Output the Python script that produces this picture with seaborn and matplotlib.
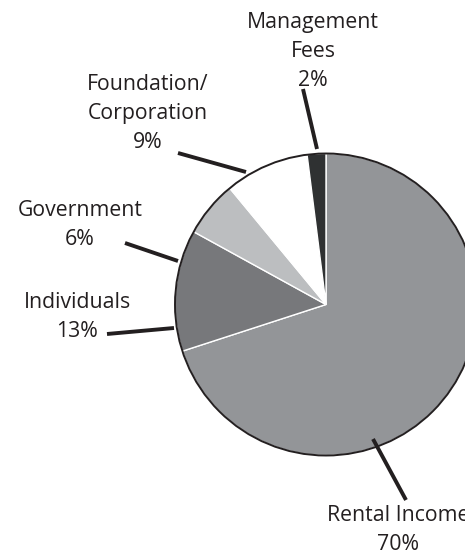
import numpy as np
import matplotlib
matplotlib.use("Agg")
import matplotlib.pyplot as plt
import seaborn as sns

# data
categories = ['Rental Income', 'Individuals', 'Government', 'Foundation/\nCorporation', 'Management\nFees']
shares = [70, 13, 6, 9, 2]
colors = ['#939598', '#77787b', '#bcbec0', '#ffffff', '#2f3132']

W, H = 465, 552
cx, cy, R = 326, 304.5, 151.0


def px(x, y):
    # pixel position -> data coords (pie radius = 1)
    return (x - cx) / R, (cy - y) / R


sns.set_theme(style="white")
plt.rcParams['font.family'] = ['Open Sans', 'DejaVu Sans']

fig = plt.figure(figsize=(W / 100, H / 100), dpi=100)
ax = fig.add_axes([0, 0, 1, 1])

wedges, _ = ax.pie(shares, colors=colors, startangle=90, counterclock=False, radius=1,
                   wedgeprops=dict(edgecolor='white', linewidth=1.0))
ax.add_patch(plt.Circle((0, 0), 1, fill=False, edgecolor='#231f20', linewidth=1.4, zorder=5))

# label block centre and leader line ends, in pixels
labels = {
    'Rental Income': ((398, 530), ((373, 439), (406, 500))),
    'Individuals': ((77, 317), ((107, 334), (174, 328))),
    'Government': ((80, 225), ((125, 243), (178, 261))),
    'Foundation/\nCorporation': ((148, 113), ((178, 153), (246, 172))),
    'Management\nFees': ((313, 51.5), ((303, 89), (317, 149))),
}
txt = '#231f20'
for name, pct in zip(categories, shares):
    (tx, ty), (p0, p1) = labels[name]
    ax.text(*px(tx, ty), f'{name}\n{pct}%', ha='center', va='center',
            fontsize=15.3, color=txt, linespacing=1.5, clip_on=False)
    xs, ys = zip(px(*p0), px(*p1))
    ax.plot(xs, ys, color='#231f20', lw=2.8, solid_capstyle='butt', zorder=6)

ax.set_xlim(-cx / R, (W - cx) / R)
ax.set_ylim((cy - H) / R, cy / R)
ax.set_aspect('equal')
ax.axis('off')

fig.savefig('out.png', dpi=100)
